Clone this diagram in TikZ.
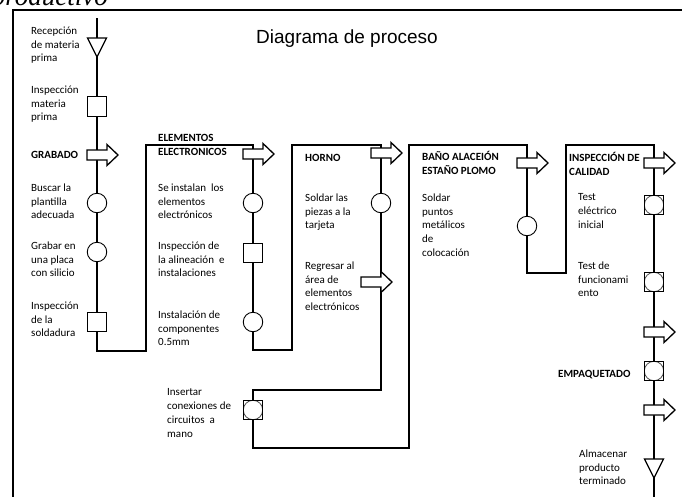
\documentclass[tikz,border=0pt]{standalone}
\usepackage{fontspec}
\setmainfont{Carlito}
\newfontfamily\arialf{Liberation Sans}
\newfontfamily\timesf{Liberation Serif}
\usetikzlibrary{backgrounds}
\begin{document}
\begin{tikzpicture}[x=1pt,y=-1pt,
 flow/.style={line width=1.3pt},
 txt/.style={anchor=north west, align=left, inner sep=0pt, font=\fontsize{11}{13.8}\selectfont, execute at begin node={\rule{0pt}{9pt}}},
 hdr/.style={txt, font=\fontsize{11}{13.8}\selectfont\bfseries},
 opc/.style={circle, draw, line width=0.9pt, fill=white, minimum size=19.5pt, inner sep=0pt},
 insp/.style={rectangle, draw, line width=1.3pt, fill=white, minimum size=19.5pt, inner sep=0pt},
 combo/.style={insp, path picture={\draw[line width=0.8pt, black!70] (path picture bounding box.center) circle (9.7pt);}},
 pics/barrow/.style={code={\draw[line width=1.3pt, fill=white] (-10,-5) -- (10,-5) -- (10,-10.5) -- (21,0) -- (10,10.5) -- (10,5) -- (-10,5) -- cycle;}},
 pics/tridown/.style={code={\draw[line width=1.3pt, fill=white] (-9.5,-9.5) -- (9.5,-9.5) -- (0,9.5) -- cycle;}}
]
\useasboundingbox (0,0) rectangle (682,496);
\clip (0,0) rectangle (682,496);

% cut caption at top
\node[anchor=base east, inner sep=0pt, font=\timesf\itshape\fontsize{27}{27}\selectfont] (cut) at (108,5) {productivo};

% frame
\draw[line width=2pt] (13,500) -- (13,10) -- (690,10);

% title
\node[anchor=base west, inner sep=0pt, font=\arialf\fontsize{19}{19}\selectfont] (title) at (256,43) {Diagrama de proceso};

% coordinates
\coordinate (start) at (97,18);
\coordinate (t1) at (97,47.5);
\coordinate (k1) at (97,351);
\coordinate (k2) at (146,351);
\coordinate (k3) at (146,145);
\coordinate (k4) at (253,145);
\coordinate (k5) at (253,350);
\coordinate (k6) at (292,350);
\coordinate (k7) at (292,145);
\coordinate (k8) at (381,145);
\coordinate (k9) at (381,390);
\coordinate (k10) at (253,390);
\coordinate (k11) at (253,448);
\coordinate (k12) at (409,448);
\coordinate (k13) at (409,145);
\coordinate (k14) at (527,145);
\coordinate (k15) at (527,273);
\coordinate (k16) at (566,273);
\coordinate (k17) at (566,145);
\coordinate (k18) at (654,145);
\coordinate (t2) at (654,468.5);
\coordinate (fin) at (654,500);

% symbols
\pic at (t1) {tridown};
\node[insp] (s1) at (97,106.5) {};
\pic at (97,155) {barrow};
\node[opc] (o1) at (97,203) {};
\node[opc] (o2) at (97,252) {};
\node[insp] (s2) at (97,322) {};

\pic at (253,154) {barrow};
\node[opc] (o3) at (253,203) {};
\node[insp] (s3) at (253,253) {};
\node[opc] (o4) at (253,322) {};

\pic at (381,153) {barrow};
\node[opc] (o5) at (381,203) {};
\pic at (371,282) {barrow};

\node[combo] (c1) at (253,410) {};

\pic at (527,163) {barrow};
\node[opc] (o6) at (527,226) {};

\pic at (654,163) {barrow};
\node[combo] (c2) at (654,205) {};
\node[combo] (c3) at (654,282) {};
\pic at (654,332) {barrow};
\node[combo] (c4) at (654,371) {};
\pic at (654,410) {barrow};
\pic at (t2) {tridown};

% flow line
\begin{scope}[on background layer]
\draw[flow] (start) -- (t1) -- (s1.center) -- (o1.center) -- (o2.center) -- (s2.center) -- (k1) -- (k2) -- (k3) -- (k4)
  -- (o3.center) -- (s3.center) -- (o4.center) -- (k5) -- (k6) -- (k7) -- (k8) -- (o5.center) -- (k9) -- (k10)
  -- (c1.center) -- (k11) -- (k12) -- (k13) -- (k14) -- (o6.center) -- (k15) -- (k16) -- (k17) -- (k18)
  -- (c2.center) -- (c3.center) -- (c4.center) -- (t2) -- (fin);
\end{scope}

% texts
\node[txt] (x1) at (31,26.5) {Recepción\\de materia\\prima};
\node[txt] (x2) at (31,85.5) {Inspección\\materia\\prima};
\node[hdr] (x3) at (31,149.5) {GRABADO};
\node[txt] (x4) at (31,183.5) {Buscar la\\plantilla\\adecuada};
\node[txt] (x5) at (31,241.5) {Grabar en\\una placa\\con silicio};
\node[txt] (x6) at (31,301.5) {Inspección\\de la\\soldadura};

\node[hdr] (x7) at (158,134.5) {ELEMENTOS\\ELECTRONICOS};
\node[txt] (x8) at (158,183.5) {Se instalan\ \ los\\elementos\\electrónicos};
\node[txt] (x9) at (158,241.5) {Inspección de\\la alineación\ \ e\\instalaciones};
\node[txt] (x10) at (158,310.5) {Instalación de\\componentes\\0.5mm};

\node[hdr] (x11) at (305,152.5) {HORNO};
\node[txt] (x12) at (305,193.5) {Soldar las\\piezas a la\\tarjeta};
\node[txt] (x13) at (305,261.5) {Regresar al\\área de\\elementos\\electrónicos};

\node[hdr] (x14) at (422,151.5) {BAÑO ALACEIÓN\\ESTAÑO PLOMO};
\node[txt] (x15) at (422,193.5) {Soldar\\puntos\\metálicos\\de\\colocación};

\node[hdr] (x16) at (569,152.5) {INSPECCIÓN DE\\CALIDAD};
\node[txt] (x17) at (578,193.5) {Test\\eléctrico\\inicial};
\node[txt] (x18) at (578,261.5) {Test de\\funcionami\\ento};
\node[hdr] (x19) at (558,368.5) {EMPAQUETADO};

\node[txt] (x20) at (167,388.5) {Insertar\\conexiones de\\circuitos\ \ a\\mano};
\node[txt] (x21) at (579,449.5) {Almacenar\\producto\\terminado};
\end{tikzpicture}
\end{document}
